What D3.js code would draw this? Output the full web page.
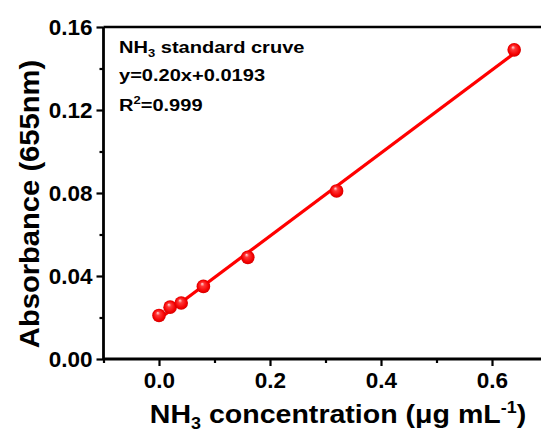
<!DOCTYPE html>
<html>
<head>
<meta charset="utf-8">
<script src="https://cdn.jsdelivr.net/npm/d3@7"></script>
<style>
  html, body { margin: 0; padding: 0; background: #fff; }
  svg { display: block; font-family: "Liberation Sans", Arial, sans-serif; font-weight: bold; }
</style>
</head>
<body>
<svg id="chart" width="541" height="440"></svg>
<script>
// ---- data ----
const concentration = [0, 0.02, 0.04, 0.08, 0.16, 0.32, 0.64];
const absorbance    = [0.021, 0.025, 0.027, 0.035, 0.049, 0.081, 0.149];
const fitSlope = 0.20;
const fitIntercept = 0.0193;
const xTicks = [0.0, 0.2, 0.4, 0.6];
const xMinorTicks = [-0.1, 0.1, 0.3, 0.5];
const yTicks = [0.00, 0.04, 0.08, 0.12, 0.16];
const yMinorTicks = [0.02, 0.06, 0.10, 0.14];
const xTickLabels = ["0.0", "0.2", "0.4", "0.6"];
const yTickLabels = ["0.00", "0.04", "0.08", "0.12", "0.16"];

const svg = d3.select("#chart");
const W = 541, H = 440;
svg.append("rect").attr("width", W).attr("height", H).attr("fill", "#fff");

const x = d3.scaleLinear().domain([-0.1, 0.7]).range([103.5, 547.5]);
const y = d3.scaleLinear().domain([0, 0.16]).range([359, 27]);

// gradient for 3D ball markers
const defs = svg.append("defs");
const grad = defs.append("radialGradient").attr("id", "ball")
  .attr("cx", "50%").attr("cy", "50%").attr("r", "50%")
  .attr("fx", "40%").attr("fy", "30%");
grad.append("stop").attr("offset", "0%").attr("stop-color", "#ffe0e0");
grad.append("stop").attr("offset", "30%").attr("stop-color", "#ff3838");
grad.append("stop").attr("offset", "80%").attr("stop-color", "#f40000");
grad.append("stop").attr("offset", "100%").attr("stop-color", "#d40000");

// frame lines (top and right)
svg.append("line").attr("x1", x(-0.1)).attr("x2", x(0.7)).attr("y1", y(0.16)).attr("y2", y(0.16))
  .attr("stroke", "#000").attr("stroke-width", 2.5);
svg.append("line").attr("x1", x(0.7)).attr("x2", x(0.7)).attr("y1", y(0.16)).attr("y2", y(0))
  .attr("stroke", "#000").attr("stroke-width", 2.5);

// axes
const xAxis = d3.axisBottom(x).tickValues(xTicks).tickSize(7).tickPadding(6)
  .tickFormat((d, i) => xTickLabels[i]);
const xMinor = d3.axisBottom(x).tickValues(xMinorTicks).tickSize(4).tickFormat("");
const yAxis = d3.axisLeft(y).tickValues(yTicks).tickSize(7).tickPadding(4)
  .tickFormat((d, i) => yTickLabels[i]);
const yMinor = d3.axisLeft(y).tickValues(yMinorTicks).tickSize(4).tickFormat("");

function styleAxis(g) {
  g.select(".domain").attr("stroke", "#000").attr("stroke-width", 2.8);
  g.selectAll(".tick line").attr("stroke", "#000").attr("stroke-width", 2.2);
  g.selectAll(".tick text").attr("fill", "#000")
    .style("font-size", "22.5px").style("font-weight", "bold")
    .style("font-family", "'Liberation Sans', Arial, sans-serif");
}

const gxm = svg.append("g").attr("transform", `translate(0,${y(0)})`).call(xMinor);
styleAxis(gxm); gxm.select(".domain").remove();
const gym = svg.append("g").attr("transform", `translate(${x(-0.1)},0)`).call(yMinor);
styleAxis(gym); gym.select(".domain").remove();

const gx = svg.append("g").attr("transform", `translate(0,${y(0)})`).call(xAxis);
styleAxis(gx);
gx.select(".domain").attr("d", `M${x(-0.1)},0H${x(0.7)}`);
const gy = svg.append("g").attr("transform", `translate(${x(-0.1)},0)`).call(yAxis);
styleAxis(gy);
gy.select(".domain").attr("d", `M0,${y(0)}V${y(0.16)}`);

// fit line
const xMin = d3.min(concentration), xMax = d3.max(concentration);
svg.append("line")
  .attr("x1", x(xMin)).attr("y1", y(fitSlope * xMin + fitIntercept))
  .attr("x2", x(xMax)).attr("y2", y(fitSlope * xMax + fitIntercept))
  .attr("stroke", "#ff0000").attr("stroke-width", 3.2);

// markers
svg.append("g").selectAll("circle")
  .data(concentration.map((c, i) => ({c, a: absorbance[i]})))
  .join("circle")
  .attr("cx", d => x(d.c)).attr("cy", d => y(d.a)).attr("r", 6.8)
  .attr("fill", "url(#ball)");

// annotation
const ann = svg.append("g").attr("fill", "#000").style("font-size", "17px")
  .attr("transform", "translate(119,0) scale(1.18,1)");
const t1 = ann.append("text").attr("x", 0).attr("y", 53);
t1.append("tspan").text("NH");
t1.append("tspan").attr("dy", 4).style("font-size", "11px").text("3");
t1.append("tspan").attr("dy", -4).text(" standard cruve");
ann.append("text").attr("x", 0).attr("y", 81).text("y=0.20x+0.0193");
const t3 = ann.append("text").attr("x", 0).attr("y", 111);
t3.append("tspan").text("R");
t3.append("tspan").attr("dy", -7).style("font-size", "11px").text("2");
t3.append("tspan").attr("dy", 7).text("=0.999");

// axis titles
const xt = svg.append("text").attr("transform", "translate(338,423) scale(1.12,1)")
  .attr("text-anchor", "middle")
  .style("font-size", "25.5px").attr("fill", "#000");
xt.append("tspan").text("NH");
xt.append("tspan").attr("dy", 6).style("font-size", "16px").text("3");
xt.append("tspan").attr("dy", -6).text(" concentration (\u03bcg mL");
xt.append("tspan").attr("dy", -10).style("font-size", "16px").text("-1");
xt.append("tspan").attr("dy", 10).text(")");

svg.append("text").attr("transform", "translate(39,204) rotate(-90) scale(1.06,1)")
  .attr("text-anchor", "middle").style("font-size", "27.5px").attr("fill", "#000")
  .text("Absorbance (655nm)");
</script>
</body>
</html>
